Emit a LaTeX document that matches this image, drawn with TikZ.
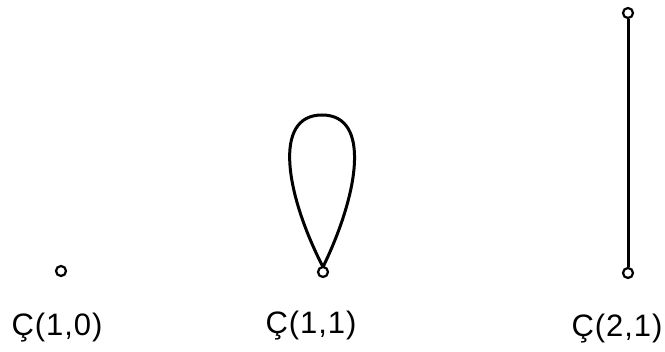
\documentclass[tikz,border=0pt]{standalone}
\usepackage{fontspec}
\setmainfont{Liberation Sans}[LetterSpace=3]
\begin{document}
\begin{tikzpicture}[x=1pt,y=-1pt,
  dot/.style={circle,draw,line width=2.2pt,minimum size=10pt,inner sep=0pt,fill=white},
  edge/.style={line width=3pt},
  lbl/.style={inner sep=0pt,font=\fontsize{31}{34}\selectfont}]
\useasboundingbox (0,0) rectangle (665,352);
% C(1,0)
\node[dot] (p1) at (61,271) {};
\node[lbl] (l1) at (57,328) {Ç(1,0)};
% C(1,1)
\draw[edge] (323,267) .. controls (286,195) and (272,115) .. (322,115)
  .. controls (372,115) and (358,195) .. (323,267);
\node[dot] (p2) at (323,272) {};
\node[lbl] (l2) at (311,326) {Ç(1,1)};
% C(2,1)
\node[dot] (p3) at (628,13) {};
\node[dot] (p4) at (628,273) {};
\draw[edge] (p3) -- (p4);
\node[lbl] (l3) at (617,329) {Ç(2,1)};
\end{tikzpicture}
\end{document}
